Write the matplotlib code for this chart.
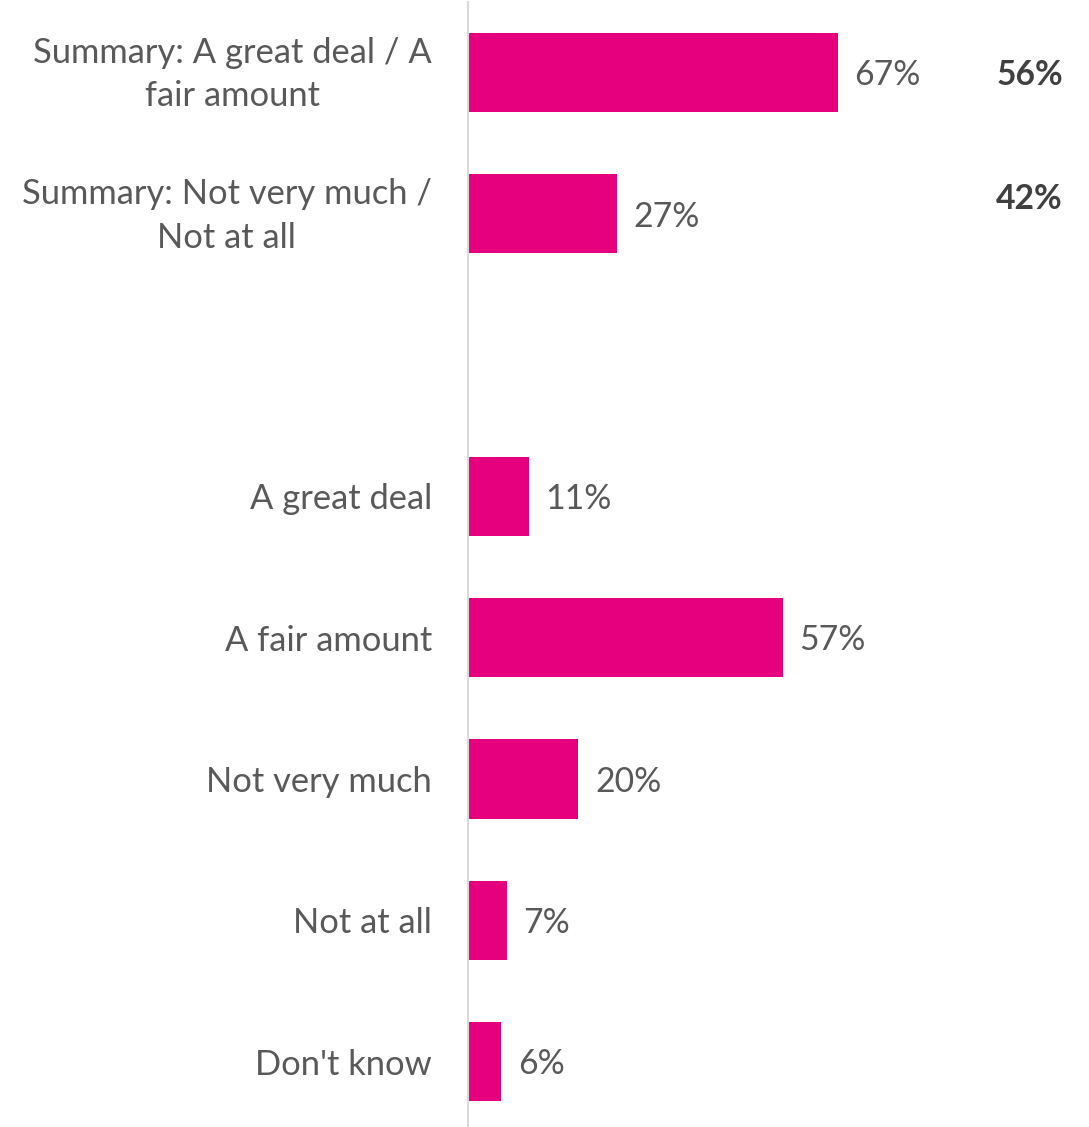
import matplotlib
matplotlib.use("Agg")
import matplotlib.pyplot as plt
import matplotlib.transforms as mtransforms

categories = [
    "Summary: A great deal / A\nfair amount",
    "Summary: Not very much /\nNot at all",
    "",
    "A great deal",
    "A fair amount",
    "Not very much",
    "Not at all",
    "Don't know",
]
values = [67, 27, None, 11, 57, 20, 7, 6]
comparison_labels = ["56%", "42%"]
comparison_rows = [0.02, 0.895]

BAR_COLOR = "#E6007E"
TEXT_COLOR = "#595959"
BOLD_COLOR = "#404040"
FONT = ["Lato", "DejaVu Sans"]

plt.rcParams["font.family"] = FONT

fig = plt.figure(figsize=(10.89, 11.27), dpi=100)
W, H = 1089, 1127
ax = fig.add_axes([468 / W, 0, 1 - 468 / W, 1 - 2 / H])

rows = list(range(len(categories)))
bar_rows = [r for r, v in zip(rows, values) if v is not None]
bar_vals = [v for v in values if v is not None]

ax.barh(bar_rows, bar_vals, height=0.56, color=BAR_COLOR, zorder=2)

for r, v in zip(bar_rows, bar_vals):
    ax.annotate(f"{v}%", xy=(v, r), xytext=(12, -2), textcoords="offset points",
                ha="left", va="center", fontsize=24.3, color=TEXT_COLOR)

for lab, r in zip(comparison_labels, comparison_rows):
    ax.annotate(lab, xy=(0.958, r), xycoords=("axes fraction", "data"),
                ha="right", va="center", fontsize=24.3, fontweight="bold",
                color=BOLD_COLOR)

ax.set_xlim(0, 112.5)
ax.set_ylim(7.463, -0.499)
ax.set_yticks(rows)
ax.set_yticklabels(categories, fontsize=24.8, color=TEXT_COLOR,
                   multialignment="center", linespacing=1.45)
ax.tick_params(axis="y", length=0, pad=26)
ax.set_xticks([])

# nudge the two-line labels up so their block sits centred on the bar
for lbl in ax.get_yticklabels():
    if "\n" in lbl.get_text():
        lbl.set_transform(lbl.get_transform() +
                          mtransforms.ScaledTranslation(0, 7 / 100, fig.dpi_scale_trans))

for side in ["top", "right", "bottom"]:
    ax.spines[side].set_visible(False)
ax.spines["left"].set_color("#D9D9D9")
ax.spines["left"].set_linewidth(1.5)

fig.savefig("out.png", dpi=100)
